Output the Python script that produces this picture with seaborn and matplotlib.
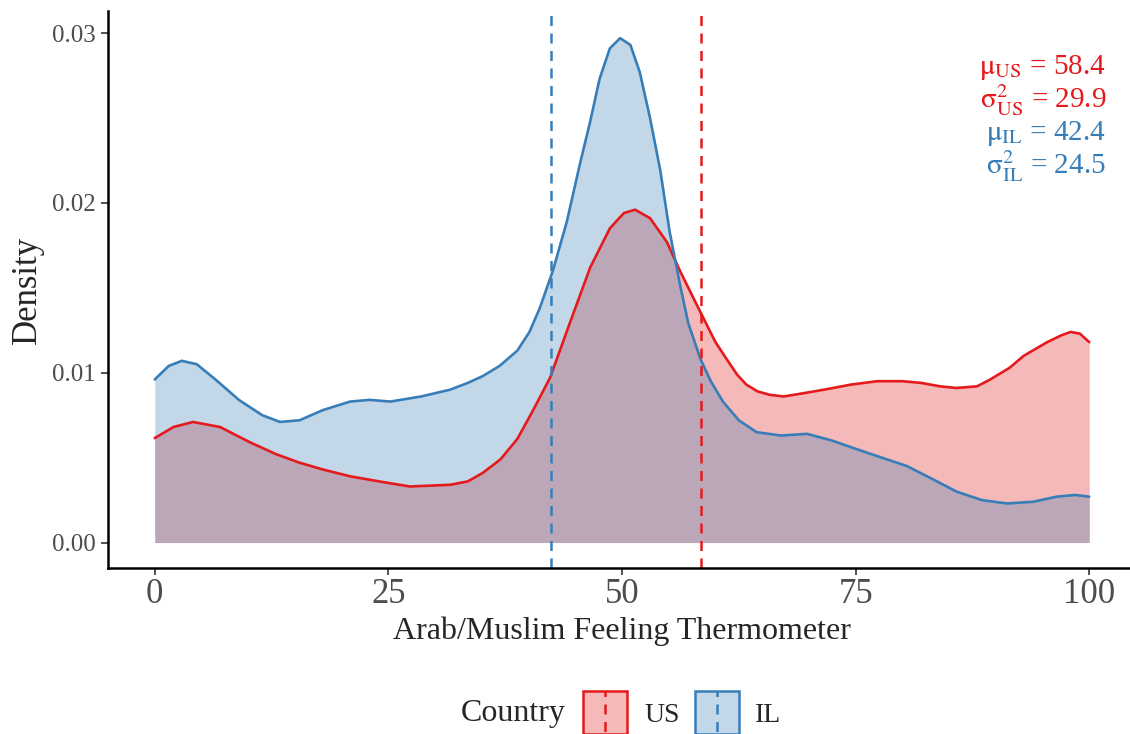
import numpy as np
import pandas as pd
import matplotlib
matplotlib.use('Agg')
from matplotlib import pyplot as plt
from matplotlib.patches import Rectangle
from matplotlib.lines import Line2D
from matplotlib.legend_handler import HandlerBase
import seaborn as sns

# density curves
us_x = [0, 2, 4.1, 7, 10.2, 13, 15.5, 18, 20.9, 24, 27.3, 31.6, 33.5, 35.1, 37, 38.8, 40.5,
        42.3, 44.4, 46.6, 48.7, 50.2, 51.4, 53.0, 54.8, 56.2, 58.0, 59.0, 60, 61.2, 62.3,
        63.3, 64.5, 65.8, 67.3, 69.5, 71.6, 74.5, 77.3, 80, 82, 84, 85.8, 88, 89.4, 91.5,
        93, 95.5, 97, 98, 99, 100]
us_y = [0.00615, 0.0068, 0.0071, 0.0068, 0.0059, 0.0052, 0.0047, 0.0043, 0.0039, 0.0036,
        0.0033, 0.0034, 0.0036, 0.0041, 0.0049, 0.0061, 0.0078, 0.0097, 0.0129, 0.0162,
        0.0185, 0.0194, 0.0196, 0.0191, 0.0177, 0.0160, 0.0140, 0.0129, 0.0118, 0.0108,
        0.0099, 0.0093, 0.0089, 0.0087, 0.0086, 0.0088, 0.0090, 0.0093, 0.0095, 0.0095,
        0.0094, 0.0092, 0.0091, 0.0092, 0.0096, 0.0103, 0.0110, 0.0118, 0.0122, 0.0124,
        0.0123, 0.0118]

il_x = [0, 1.5, 2.9, 4.5, 6.5, 9, 11.5, 13.4, 15.5, 18, 20.9, 23, 25.2, 28.5, 31.6, 33.5,
        35.1, 36.9, 38.8, 40.1, 41.2, 42.6, 44.1, 45.5, 46.6, 47.6, 48.7, 49.8, 50.9, 51.9,
        53.0, 54.1, 55.1, 56.2, 57.1, 58.4, 59.5, 60.8, 62.5, 64.4, 67, 69.8, 72.5, 75.1,
        77.8, 80.5, 83, 85.8, 88.5, 91.2, 94, 96.5, 98.5, 100]
il_y = [0.0096, 0.0104, 0.0107, 0.0105, 0.0096, 0.0084, 0.0075, 0.0071, 0.0072, 0.0078,
        0.0083, 0.0084, 0.0083, 0.0086, 0.0090, 0.0094, 0.0098, 0.0104, 0.0113, 0.0124,
        0.0138, 0.0160, 0.0189, 0.0223, 0.0248, 0.0273, 0.0291, 0.0297, 0.0293, 0.0277,
        0.0250, 0.0219, 0.0183, 0.0152, 0.0129, 0.0108, 0.0095, 0.0083, 0.0072, 0.0065,
        0.0063, 0.0064, 0.0060, 0.0055, 0.0050, 0.0045, 0.0038, 0.0030, 0.0025, 0.0023,
        0.0024, 0.0027, 0.0028, 0.0027]

countries = ['US', 'IL']
means = {'US': 58.4, 'IL': 42.4}
sds = {'US': 29.9, 'IL': 24.5}
colors = {'US': '#E41A1C', 'IL': '#377EB8'}
curves = {'US': (us_x, us_y), 'IL': (il_x, il_y)}

sns.set_theme(style='ticks')
plt.rcParams['font.family'] = ['Liberation Serif', 'DejaVu Serif']
plt.rcParams['mathtext.fontset'] = 'stix'

fig = plt.figure(figsize=(11.3, 7.34), dpi=100)
ax = fig.add_axes([108/1130, 166/734, (1136-108)/1130, (568-11)/734])

for c in countries:
    x, y = curves[c]
    ax.fill_between(x, y, color=colors[c], alpha=0.3, linewidth=0)
    sns.lineplot(x=x, y=y, ax=ax, color=colors[c], linewidth=1.9)

for c in countries:
    ax.axvline(means[c], color=colors[c], linestyle=(0, (4, 3)), linewidth=1.8)

ax.set_xlim(-5, 105)
ax.set_ylim(-0.0015, 0.0313)
ax.set_xticks([0, 25, 50, 75, 100])
ax.set_yticks([0, 0.01, 0.02, 0.03])
ax.set_yticklabels(['0.00', '0.01', '0.02', '0.03'])
ax.tick_params(labelcolor='#4D4D4D', color='#333333', length=5, width=1.2)
ax.tick_params(axis='x', labelsize=25, pad=2)
ax.tick_params(axis='y', labelsize=18)
ax.set_xlabel('Arab/Muslim Feeling Thermometer', fontsize=23, labelpad=4)
ax.set_ylabel('Density', fontsize=25, labelpad=6)
for s in ['top', 'right']:
    ax.spines[s].set_visible(False)
for s in ['left', 'bottom']:
    ax.spines[s].set_linewidth(1.8)
    ax.spines[s].set_color('black')

ann = [(r'$\mathrm{\mu}_{\mathrm{US}}$ = 58.4', 0.0280, 'US'),
       (r'$\mathrm{\sigma}^{2}_{\mathrm{US}}$ = 29.9', 0.02605, 'US'),
       (r'$\mathrm{\mu}_{\mathrm{IL}}$ = 42.4', 0.0241, 'IL'),
       (r'$\mathrm{\sigma}^{2}_{\mathrm{IL}}$ = 24.5', 0.02215, 'IL')]
for txt, yy, c in ann:
    ax.text(101.8, yy, txt, ha='right', va='center', fontsize=21, color=colors[c])


class BoxDash(HandlerBase):
    def create_artists(self, legend, orig, xd, yd, w, h, fs, trans):
        col = orig.get_edgecolor()
        cy = -yd + h / 2
        r = Rectangle((-xd, cy - w / 2), w, w, facecolor=orig.get_facecolor(),
                      edgecolor=col, linewidth=1.8, transform=trans)
        l = Line2D([-xd + w / 2] * 2, [cy - w / 2, cy + w / 2], color=col,
                   linestyle=(-1, (4, 3)), linewidth=1.8, transform=trans)
        return [r, l]


handles = [Rectangle((0, 0), 1, 1, facecolor=matplotlib.colors.to_rgba(colors[c], 0.3),
                     edgecolor=colors[c]) for c in countries]
fig.legend(handles, countries, handler_map={Rectangle: BoxDash()}, ncol=2, frameon=False,
           loc='center', bbox_to_anchor=(0.604, 20/734), fontsize=20, handlelength=1.58,
           handleheight=1.0, columnspacing=0.55, handletextpad=0.6)
fig.text(566/1130, 20/734, 'Country', ha='right', va='center', fontsize=23)

fig.savefig('out.png', dpi=100)
